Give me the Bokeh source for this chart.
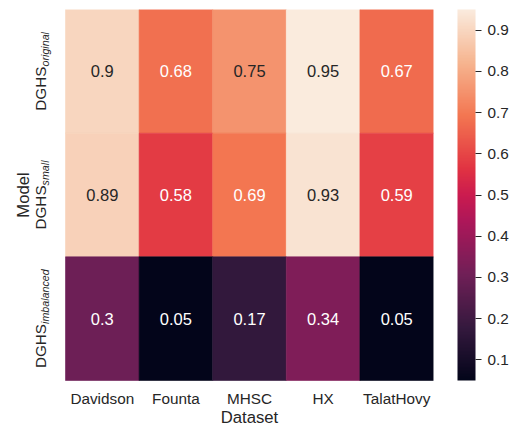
import math
from bokeh.plotting import figure
from bokeh.models import (ColumnDataSource, LinearColorMapper, ColorBar,
                          FixedTicker, Range1d)
from bokeh.embed import file_html
from bokeh.resources import INLINE
from bokeh.core.properties import value

# ---------------- data ----------------
datasets = ["Davidson", "Founta", "MHSC", "HX", "TalatHovy"]
model_base = "DGHS"
model_subs = ["original", "small", "imbalanced"]
scores_original = [0.90, 0.68, 0.75, 0.95, 0.67]
scores_small = [0.89, 0.58, 0.69, 0.93, 0.59]
scores_imbalanced = [0.30, 0.05, 0.17, 0.34, 0.05]
cbar_ticks = [0.1, 0.2, 0.3, 0.4, 0.5, 0.6, 0.7, 0.8, 0.9]
x_title = "Dataset"
y_title = "Model"

# ---------------- colormap (seaborn "rocket" approximation) ----------------
rocket_stops = [
    (0.0, (3, 5, 26)), (1 / 7, (53, 25, 62)), (2 / 7, (112, 31, 87)),
    (3 / 7, (173, 23, 89)), (0.5, (203, 27, 79)), (4 / 7, (225, 51, 66)),
    (5 / 7, (243, 118, 81)), (6 / 7, (246, 180, 143)), (1.0, (250, 235, 221)),
]


def rocket(t):
    t = min(max(t, 0.0), 1.0)
    for (t0, c0), (t1, c1) in zip(rocket_stops[:-1], rocket_stops[1:]):
        if t <= t1:
            f = (t - t0) / (t1 - t0) if t1 > t0 else 0
            return tuple(c0[k] + f * (c1[k] - c0[k]) for k in range(3))
    return rocket_stops[-1][1]


def hexc(c):
    return "#%02x%02x%02x" % tuple(int(round(v)) for v in c)


palette = [hexc(rocket(i / 255)) for i in range(256)]


def luminance(c):
    lin = []
    for v in c:
        v = v / 255
        lin.append(v / 12.92 if v <= 0.03928 else ((v + 0.055) / 1.055) ** 2.4)
    return 0.2126 * lin[0] + 0.7152 * lin[1] + 0.0722 * lin[2]


rows = [scores_original, scores_small, scores_imbalanced]
all_vals = [v for r in rows for v in r]
vmin, vmax = min(all_vals), max(all_vals)

xs, ys, vals, labels, tcolors = [], [], [], [], []
nrows = len(rows)
ncols = len(datasets)
for j, r in enumerate(rows):
    for i, v in enumerate(r):
        xs.append(i + 0.5)
        ys.append(nrows - j - 0.5)
        vals.append(v)
        labels.append(format(v, ".2g"))
        col = rocket((v - vmin) / (vmax - vmin))
        tcolors.append("#262626" if luminance(col) > 0.37 else "#ffffff")

src = ColumnDataSource(dict(x=xs, y=ys, v=vals, label=labels, tc=tcolors))
mapper = LinearColorMapper(palette=palette, low=vmin, high=vmax)

FONT = "Liberation Sans"
TXT = "#262626"

# layout (pixels)
LEFT_PAD = 65          # room left of the heatmap for the row labels
BOTTOM_PAD = 46        # room below the heatmap for the column labels
CELL_W = 73.6
HEAT_H = 371
px_per_y = HEAT_H / nrows

p = figure(width=518, height=426, output_backend="svg", toolbar_location=None,
           x_range=Range1d(-LEFT_PAD / CELL_W, ncols),
           y_range=Range1d(-BOTTOM_PAD / px_per_y, nrows),
           x_axis_location=None, y_axis_location=None,
           min_border_left=0, min_border_top=9, min_border_bottom=0,
           min_border_right=85)
p.grid.visible = False
p.outline_line_color = None
p.background_fill_color = "white"
p.border_fill_color = "white"

p.rect(x="x", y="y", width=1, height=1, source=src,
       fill_color={"field": "v", "transform": mapper},
       line_color={"field": "v", "transform": mapper}, line_width=0.6)
p.text(x="x", y="y", text="label", source=src, text_align="center",
       text_baseline="middle", text_color="tc",
       text_font=value(FONT), text_font_size="16.5px")

# column labels and x title (anchors in px below the heatmap)
p.text(x=[i + 0.5 for i in range(ncols)], y=[-18 / px_per_y] * ncols,
       text=datasets, text_align="center", text_baseline="alphabetic",
       text_font=value(FONT), text_font_size="15.3px", text_color=TXT)
p.text(x=[ncols / 2], y=[-36.5 / px_per_y], text=[x_title],
       text_align="center", text_baseline="alphabetic",
       text_font=value(FONT), text_font_size="16.7px", text_color=TXT)

# Arial advance widths (per 1000 em)
AW = {"D": 722, "G": 778, "H": 722, "S": 667, "o": 556, "r": 333, "i": 222,
      "g": 556, "n": 556, "a": 556, "l": 222, "s": 500, "m": 833, "b": 556,
      "c": 500, "e": 556, "d": 556}


def tw(s, size):
    return sum(AW.get(ch, 556) for ch in s) / 1000 * size


MAIN = 15.3
SUB = 10.7
MAIN_BASE_PX = 40      # anchor x (canvas px) of the row labels
SUB_BASE_PX = 44.5
MODEL_BASE_PX = 23

mx, my, mt, sx, sy, st = [], [], [], [], [], []
for j, sub in enumerate(model_subs):
    yc = nrows - j - 0.5
    wm = tw(model_base, MAIN)
    ws = tw(sub, SUB)
    L = wm + ws
    mx.append((MAIN_BASE_PX - LEFT_PAD) / CELL_W)
    my.append(yc - (L / 2) / px_per_y)
    mt.append(model_base)
    sx.append((SUB_BASE_PX - LEFT_PAD) / CELL_W)
    sy.append(yc - (L / 2 - wm) / px_per_y)
    st.append(sub)

p.text(x=mx, y=my, text=mt, angle=math.pi / 2, text_align="left",
       text_baseline="alphabetic", text_font=value(FONT),
       text_font_size=f"{MAIN}px", text_color=TXT)
p.text(x=sx, y=sy, text=st, angle=math.pi / 2, text_align="left",
       text_baseline="alphabetic", text_font=value(FONT),
       text_font_style="italic", text_font_size=f"{SUB}px", text_color=TXT)
p.text(x=[(MODEL_BASE_PX - LEFT_PAD) / CELL_W], y=[nrows / 2], text=[y_title],
       angle=math.pi / 2, text_align="center", text_baseline="alphabetic",
       text_font=value(FONT), text_font_size="16.7px", text_color=TXT)

cb = ColorBar(color_mapper=mapper, width=18, height=HEAT_H, padding=0, margin=0,
              location=(24, BOTTOM_PAD),
              ticker=FixedTicker(ticks=cbar_ticks),
              major_label_text_font=FONT, major_label_text_font_size="15.3px",
              major_label_text_color=TXT, major_tick_out=6, major_tick_in=0,
              major_tick_line_color=TXT, minor_tick_line_color=None,
              label_standoff=6, bar_line_color=None, border_line_color=None,
              background_fill_color=None)
p.add_layout(cb, "right")

open("out.html", "w").write(file_html(p, INLINE))
